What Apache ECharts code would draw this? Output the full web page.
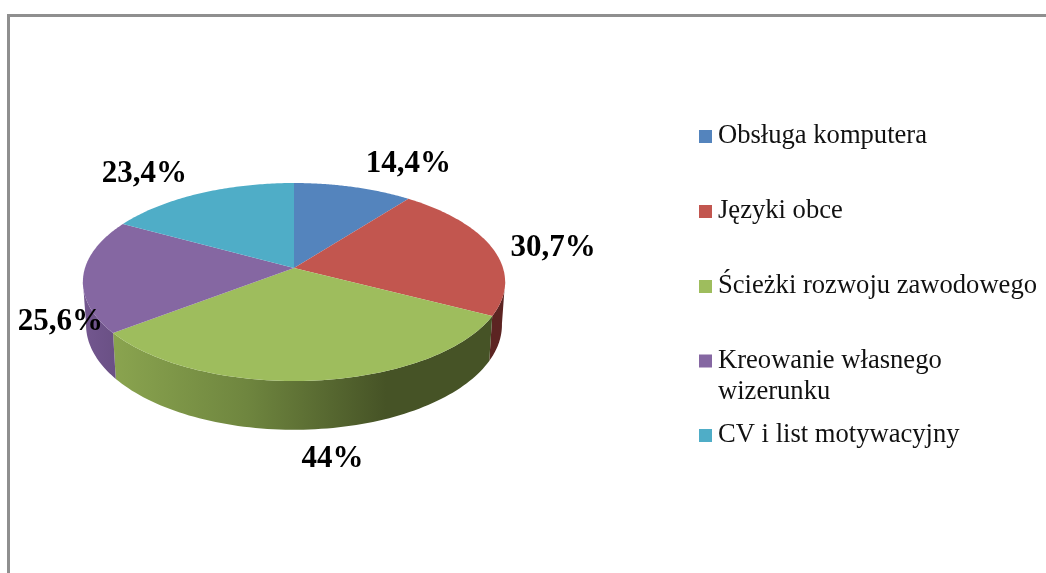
<!DOCTYPE html>
<html><head><meta charset="utf-8">
<style>html,body{margin:0;padding:0;background:#fff}#c{width:1046px;height:573px}</style>
<script src="https://cdn.jsdelivr.net/npm/echarts@6/dist/echarts.min.js"></script>
</head><body><div id="c"></div>
<script>
const categories = ['Obsługa komputera','Języki obce','Ścieżki rozwoju zawodowego','Kreowanie własnego wizerunku','CV i list motywacyjny'];
const values = [14.4,30.7,44,25.6,23.4];
const valueLabels = ['14,4%','30,7%','44%','25,6%','23,4%'];
const topColors = ['#5484bd','#c2564f','#9ebd5d','#8567a2','#4fadc7'];
const sideStops = [
  [[0,'#3a5a80'],[1,'#3a5a80']],
  [[0,'#5c2422'],[1,'#5c2422']],
  [[0,'#8aa44f'],[0.35,'#6f863f'],[0.72,'#465326'],[1,'#465326']],
  [[0,'#73578f'],[1,'#6a5085']],
  [[0,'#3a8296'],[1,'#3a8296']]
];
const labelNudge = [[55,-23],[61,0],[17,79],[-23,47],[-55,-20]];
const legendTops = [136,211,286,345.5,435];

// projection of the tilted disc
const CX=294, CY=268, A=97, B=209, K=0.1414, BOTTOM_X=0.985, BOTTOM_Y=1.06, DEPTH=42;
const total = values.reduce((s,v)=>s+v,0);
function rim(deg){
  const t=deg*Math.PI/180, X=Math.sin(t), Y=-Math.cos(t), d=1-K*Y;
  return {x:B*X/d, y:A*Y/d, Y};
}
const upper = p=>[CX+p.x, CY+p.y];
const lower = p=>[CX+p.x*BOTTOM_X, CY+p.y*BOTTOM_Y+DEPTH];

function renderSlice(i){
  return function(params, api){
    const v=api.value(0);
    let start=0; for(let j=0;j<i;j++) start+=values[j];
    const a0=start/total*360, a1=(start+v)/total*360;
    const pts=[[CX,CY]], front=[], kids=[];
    for(let n=0;n<=80;n++){
      const p=rim(a0+(a1-a0)*n/80);
      pts.push(upper(p));
      if(p.Y>=K-0.02) front.push(p);
    }
    if(front.length>1){
      const poly=front.map(upper).concat(front.slice().reverse().map(lower));
      const xs=poly.map(q=>q[0]), x0=Math.min(...xs), x1=Math.max(...xs);
      kids.push({type:'polygon',z2:1,shape:{points:poly},
        style:{fill:{type:'linear',global:true,x:x0,y:0,x2:x1,y2:0,
          colorStops:sideStops[i].map(s=>({offset:s[0],color:s[1]}))}}});
    }
    kids.push({type:'polygon',z2:10,shape:{points:pts},style:{fill:topColors[i]}});
    const m=rim((a0+a1)/2);
    kids.push({type:'text',z2:20,x:CX+m.x+labelNudge[i][0],y:CY+m.y+labelNudge[i][1],
      style:{text:valueLabels[i],font:'bold 31px "Liberation Serif"',fill:'#000',align:'center',verticalAlign:'middle'}});
    return {type:'group',children:kids};
  };
}

const chart=echarts.init(document.getElementById('c'),null,{renderer:'canvas'});
chart.setOption({
  animation:false,
  backgroundColor:'#fff',
  graphic:[
    {type:'line',shape:{x1:7,y1:15.5,x2:1046,y2:15.5},style:{stroke:'#8f8f8f',lineWidth:3}},
    {type:'line',shape:{x1:8.5,y1:14,x2:8.5,y2:573},style:{stroke:'#8f8f8f',lineWidth:3}}
  ],
  legend:categories.map((c,i)=>{
    const two=i===3;
    return {
      data:[c],orient:'vertical',left:699,top:two?legendTops[i]-1:legendTops[i]-16.5,
      padding:0,itemGap:0,itemWidth:13,itemHeight:two?45:13,
      icon:two?'path://M0 0L13 0L13 13L0 13ZM0 45L0 45Z':'rect',
      selectedMode:false,
      formatter:n=>n.replace('własnego ','własnego\n'),
      textStyle:{fontFamily:'Liberation Serif',fontSize:26.6,color:'#111',lineHeight:31,padding:[3,0,0,1]}
    };
  }),
  series:categories.map((c,i)=>({
    type:'custom',name:c,coordinateSystem:'none',
    itemStyle:{color:topColors[i]},
    data:[[values[i]]],
    renderItem:renderSlice(i)
  }))
});
</script></body></html>
